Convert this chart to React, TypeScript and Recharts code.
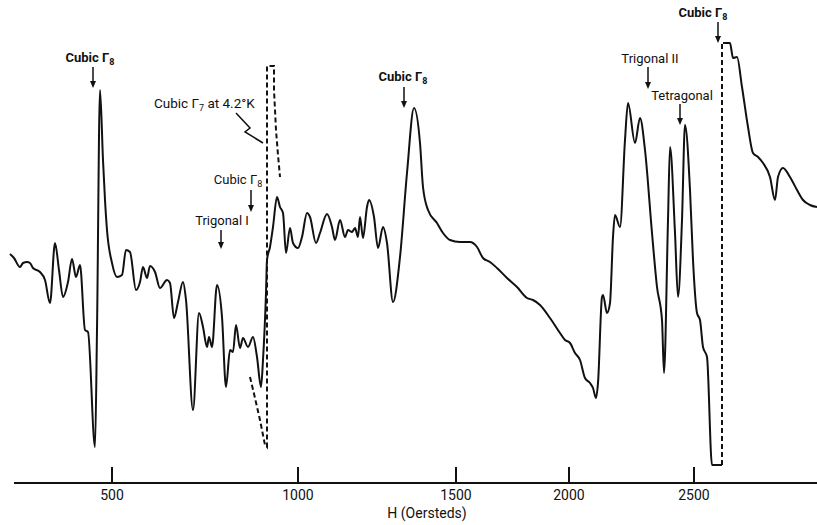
import React from "react";
import { LineChart, Line, XAxis, YAxis, ReferenceLine } from "recharts";

// recorder position along the chart (the H axis of the original trace is not linear)
const tickPositions = [112, 298, 456, 569, 694];
const tickLabels = ["500", "1000", "1500", "2000", "2500"];

// main trace up to the low edge of the high-field cubic line
const tracePos = [
  10, 14, 20, 23, 27, 30, 33, 40, 45, 50, 55, 59, 63, 68, 72, 76, 80, 85, 88, 95, 97, 100, 103, 105, 107,
  112, 117, 122, 126, 130, 136, 140, 143, 147, 150, 155, 160, 167, 170, 174, 178, 183, 186, 193, 199, 203,
  207, 209, 212, 217, 222, 226, 230, 233, 236, 240, 243, 248, 253, 257, 261, 263, 266, 267, 270, 273, 277,
  280, 283, 286, 290, 293, 298, 302, 307, 310, 316, 320, 327, 332, 335, 340, 345, 348, 352, 355, 358, 360,
  363, 367, 369, 374, 378, 383, 387, 393, 400, 407, 414, 420, 423, 428, 437, 443, 450, 460, 470, 477, 483,
  490, 497, 507, 517, 527, 533, 540, 550, 560, 565, 570, 575, 580, 585, 590, 593, 596, 598, 602, 603, 607,
  610, 613, 615, 620, 625, 628, 635, 640, 645, 652, 657, 662, 664, 668, 670, 675, 678, 682, 685, 690, 693,
  697, 700, 703, 707, 712, 722,
];
const traceSignal = [
  229, 225, 216, 220, 221, 220, 215, 211, 203, 180, 240, 213, 186, 201, 224, 206, 218, 153, 151, 36, 153, 393, 323, 283, 253,
  220, 206, 208, 233, 231, 193, 201, 216, 205, 217, 211, 195, 203, 200, 165, 181, 201, 183, 73, 170, 156,
  136, 146, 136, 198, 166, 96, 133, 131, 158, 135, 145, 136, 146, 126, 96, 123, 190, 223, 236, 256, 286,
  276, 270, 230, 255, 240, 235, 246, 270, 266, 240, 250, 269, 256, 243, 263, 246, 253, 251, 255, 246, 266,
  245, 276, 283, 266, 235, 256, 240, 181, 226, 310, 375, 340, 296, 273, 260, 250, 243, 241, 241, 236, 225,
  221, 215, 205, 196, 185, 183, 178, 165, 150, 143, 140, 130, 123, 105, 100, 95, 85, 100, 186, 188, 170,
  180, 246, 268, 256, 343, 380, 340, 365, 333, 250, 196, 163, 110, 263, 336, 250, 186, 263, 358, 293, 223,
  170, 163, 136, 126, 18, 18,
];

// off-scale jump of the high-field cubic line (dashed)
const jumpPos = [722, 722];
const jumpSignal = [18, 440];

// trace after the jump
const tailPos = [723, 730, 733, 737, 742, 748, 753, 758, 763, 770, 775, 778, 783, 790, 797, 803, 810, 817];
const tailSignal = [440, 440, 425, 426, 396, 356, 330, 326, 320, 306, 283, 306, 315, 306, 293, 283, 278, 276];

// cubic Γ7 line recorded at 4.2°K (dashed)
const gamma7Pos = [250, 255, 260, 265, 267, 267, 274, 274, 276, 278, 280];
const gamma7Signal = [106, 85, 63, 38, 36, 417, 417, 393, 353, 328, 306];

const zip = (xs: number[], ys: number[]) => xs.map((x, i) => ({ x, y: ys[i] }));

const FONT = "Roboto, 'DejaVu Sans', sans-serif";

function AxisTick(props: any) {
  const { x, y, payload } = props;
  const i = tickPositions.indexOf(payload.value);
  return (
    <g>
      <line x1={x} y1={y - 16} x2={x} y2={y} stroke="#111" strokeWidth={2} />
      <text x={x} y={y + 17} textAnchor="middle" fontFamily={FONT} fontSize={14} fill="#111">
        {tickLabels[i]}
      </text>
    </g>
  );
}

function Arrow({ x, y1, y2 }: { x: number; y1: number; y2: number }) {
  return (
    <g>
      <line x1={x} y1={y1} x2={x} y2={y2 - 5} stroke="#111" strokeWidth={1.5} />
      <path d={`M${x - 3},${y2 - 7} L${x + 3},${y2 - 7} L${x},${y2} Z`} fill="#111" />
    </g>
  );
}

function Gamma({ x, y, sub, bold, prefix = "Cubic " }: any) {
  return (
    <text x={x} y={y} textAnchor="middle" fontFamily={FONT} fontSize={13} fontWeight={bold ? 700 : 400} fill="#111">
      {prefix}Γ
      <tspan fontSize={9} dy={3}>{sub}</tspan>
    </text>
  );
}

const lineProps = {
  dataKey: "y",
  type: "linear" as const,
  stroke: "#111",
  strokeWidth: 2,
  dot: false,
  activeDot: false,
  legendType: "none" as const,
  isAnimationActive: false,
};

export default function App() {
  return (
    <div style={{ position: "fixed", left: 0, top: 0, width: 817, height: 525, background: "#fff" }}>
      <LineChart width={817} height={525} margin={{ top: 0, right: 0, left: 0, bottom: 0 }}>
        <XAxis
          dataKey="x"
          type="number"
          domain={[0, 817]}
          allowDataOverflow
          ticks={tickPositions}
          tick={<AxisTick />}
          tickLine={false}
          axisLine={false}
          tickSize={0}
          tickMargin={0}
          height={42}
          interval={0}
        />
        <YAxis type="number" domain={[0, 483]} hide allowDataOverflow />
        <ReferenceLine
          segment={[{ x: 14, y: 0 }, { x: 817, y: 0 }]}
          stroke="#111"
          strokeWidth={2}
          ifOverflow="visible"
        />
        <Line {...lineProps} type="monotoneX" data={zip(tracePos, traceSignal)} />
        <Line {...lineProps} data={zip(jumpPos, jumpSignal)} strokeDasharray="5 3" />
        <Line {...lineProps} type="monotoneX" data={zip(tailPos, tailSignal)} />
        <Line {...lineProps} data={zip(gamma7Pos, gamma7Signal)} strokeDasharray="5 3" />
      </LineChart>
      <svg width={817} height={525} style={{ position: "absolute", left: 0, top: 0, pointerEvents: "none" }}>
        <Gamma x={90} y={62} sub="8" bold />
        <Arrow x={93} y1={67} y2={88} />

        <text x={154} y={108} fontFamily={FONT} fontSize={13.5} fill="#111">
          Cubic Γ<tspan fontSize={9} dy={3}>7</tspan>
          <tspan dy={-3}> at 4.2°K</tspan>
        </text>
        <polyline points="236,113 250,128 245,132 263,143" fill="none" stroke="#111" strokeWidth={1.5} />

        <Gamma x={238} y={184} sub="8" />
        <Arrow x={251} y1={190} y2={212} />

        <text x={222} y={225} textAnchor="middle" fontFamily={FONT} fontSize={13} fill="#111">Trigonal I</text>
        <Arrow x={221} y1={230} y2={249} />

        <Gamma x={403} y={81} sub="8" bold />
        <Arrow x={404} y1={87} y2={108} />

        <text x={650} y={63} textAnchor="middle" fontFamily={FONT} fontSize={13} fill="#111">Trigonal II</text>
        <Arrow x={648} y1={67} y2={89} />

        <text x={682} y={100} textAnchor="middle" fontFamily={FONT} fontSize={13} fill="#111">Tetragonal</text>
        <Arrow x={680} y1={104} y2={125} />

        <Gamma x={703} y={17} sub="8" bold />
        <Arrow x={718} y1={22} y2={43} />

        <text x={427} y={518} textAnchor="middle" fontFamily={FONT} fontSize={14} fill="#111">H (Oersteds)</text>
      </svg>
    </div>
  );
}
